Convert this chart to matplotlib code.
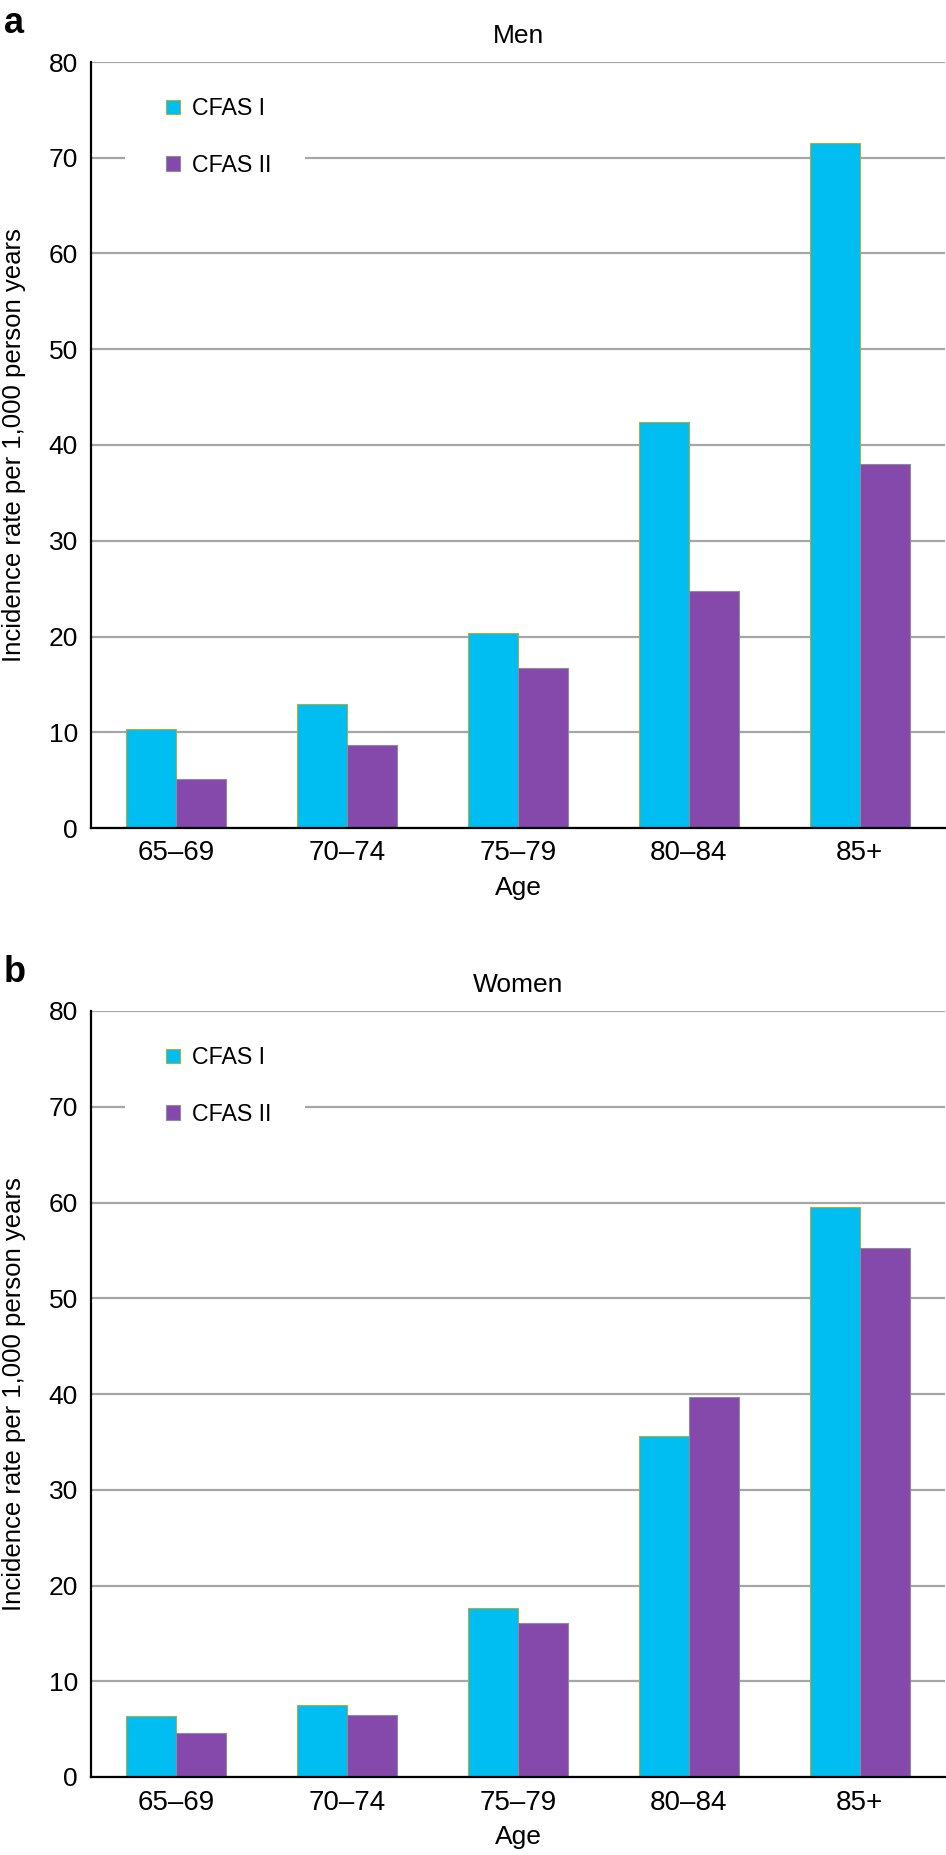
import matplotlib
matplotlib.use("Agg")
import matplotlib.pyplot as plt
from matplotlib.patches import Rectangle
import numpy as np

# Age groups and incidence rates (per 1,000 person years)
age_groups = ["65\u201369", "70\u201374", "75\u201379", "80\u201384", "85+"]
men_cfas1 = [10.3, 12.9, 20.4, 42.4, 71.5]
men_cfas2 = [5.1, 8.7, 16.7, 24.8, 38.0]
women_cfas1 = [6.4, 7.5, 17.6, 35.6, 59.5]
women_cfas2 = [4.6, 6.5, 16.1, 39.7, 55.3]
series_labels = ["CFAS I", "CFAS II"]
panel_titles = ["Men", "Women"]
panel_letters = ["a", "b"]
y_ticks = [0, 10, 20, 30, 40, 50, 60, 70, 80]

plt.rcParams["font.family"] = ["Liberation Sans", "DejaVu Sans"]

CYAN = "#00BDF2"
PURPLE = "#8549AC"
W, H = 946, 1855
fig = plt.figure(figsize=(W / 100, H / 100), dpi=100)

panels = [
    (men_cfas1, men_cfas2, 62),
    (women_cfas1, women_cfas2, 1011),
]

x = np.arange(len(age_groups))
bw = 0.293

for i, (s1, s2, top_px) in enumerate(panels):
    ax_h = 766 / H
    ax = fig.add_axes([91 / W, 1 - top_px / H - ax_h, 854 / W, ax_h])
    ax.bar(x - bw / 2, s1, bw, color=CYAN, edgecolor="#A8B040", linewidth=0.8,
           label=series_labels[0], zorder=3)
    ax.bar(x + bw / 2, s2, bw, color=PURPLE, edgecolor="#8C8C9C", linewidth=0.8,
           label=series_labels[1], zorder=3)
    ax.set_xlim(-0.5, len(age_groups) - 0.5)
    ax.set_ylim(0, 80)
    ax.set_yticks(y_ticks)
    ax.set_xticks(x)
    ax.set_xticklabels(age_groups)
    ax.tick_params(axis="y", length=0, pad=9.4, labelsize=19)
    ax.tick_params(axis="x", length=0, pad=9, labelsize=20)
    ax.yaxis.grid(True, color="#A6A6A6", linewidth=1.6, zorder=0)
    ax.set_axisbelow(True)
    for side in ["top", "right"]:
        ax.spines[side].set_visible(False)
    for side in ["left", "bottom"]:
        ax.spines[side].set_linewidth(1.6)
        ax.spines[side].set_color("black")
        ax.spines[side].set_zorder(4)

    ax.set_title(panel_titles[i], fontsize=19, pad=13.7)
    ax.set_xlabel("Age", fontsize=19, labelpad=7)
    ax.set_ylabel("Incidence rate per 1,000 person years", fontsize=18.5)
    ax.yaxis.set_label_coords(-0.076, 0.5)

    # white box behind the legend breaking the gridlines
    ax.add_patch(Rectangle((34 / 854, 0.82), 180 / 854, 0.16, transform=ax.transAxes,
                           facecolor="white", edgecolor="none", zorder=2))
    ax.legend(loc="center left", bbox_to_anchor=(0.0878, 0.902), frameon=False,
              fontsize=16.7, handlelength=0.6, handleheight=0.6, handletextpad=0.52,
              labelspacing=1.45, borderpad=0, borderaxespad=0)

    fig.text(4 / W, 1 - (top_px - 29) / H, panel_letters[i], fontsize=26,
             fontweight="bold", ha="left", va="baseline")

fig.savefig("out.png", dpi=100)
